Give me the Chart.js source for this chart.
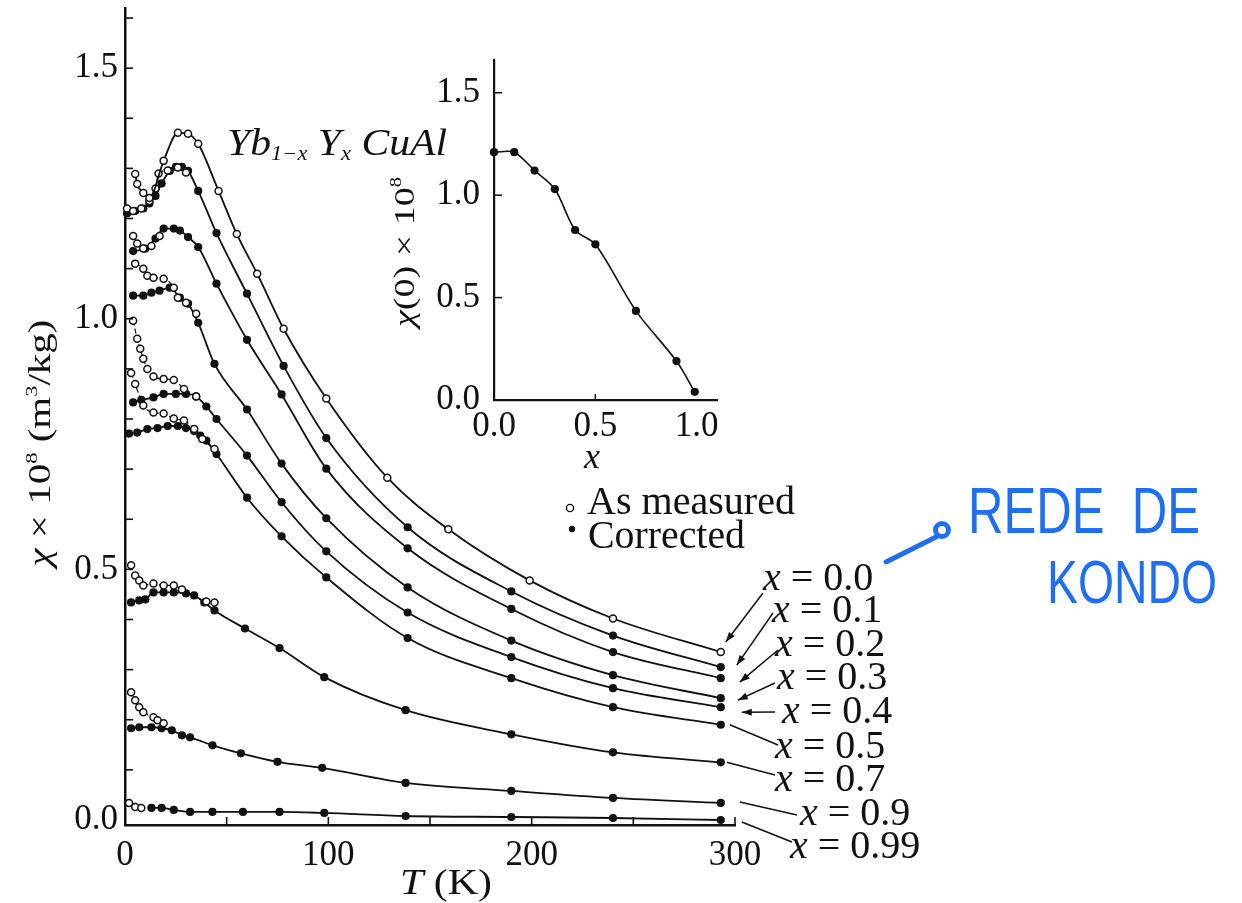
<!DOCTYPE html>
<html>
<head>
<meta charset="utf-8">
<script src="https://cdn.jsdelivr.net/npm/chart.js@4.4.1/dist/chart.umd.min.js"></script>
<style>
  body { margin: 0; background: #fff; }
  #wrap { position: relative; width: 1242px; height: 903px; overflow: hidden; }
  #main { position: absolute; left: 0; top: 0; }
  #inset { position: absolute; left: 370px; top: 40px; }
</style>
</head>
<body>
<div id="wrap">
  <canvas id="main" width="1242" height="903"></canvas>
  <canvas id="inset" width="370" height="440"></canvas>
</div>
<script>
const SERIF = "'Liberation Serif', 'DejaVu Serif', serif";
const INK = '#111';
const BLUE = '#1f6ff0';

// compositions x of Yb(1-x) Y(x) CuAl
const compositions = ['0.0', '0.1', '0.2', '0.3', '0.4', '0.5', '0.7', '0.9', '0.99'];

// chi x 10^8 (m3/kg) vs T (K) -- "corrected" = filled, "measured" = open
const T_00m = [5, 6, 9, 12, 19, 26, 31, 36, 46, 55, 65, 78, 99, 129, 159, 199, 240, 293];
const chi_00m = [1.289, 1.269, 1.251, 1.241, 1.315, 1.371, 1.369, 1.349, 1.255, 1.169, 1.090, 0.980, 0.841, 0.683, 0.580, 0.478, 0.402, 0.335];

const T_01 = [1, 5, 9, 12, 15, 18, 22, 25, 28, 31, 36, 45, 60, 78, 99, 139, 190, 240, 293];
const chi_01 = [1.21, 1.215, 1.22, 1.23, 1.245, 1.27, 1.295, 1.303, 1.303, 1.295, 1.255, 1.171, 1.05, 0.906, 0.762, 0.584, 0.456, 0.368, 0.305];
const T_01m = [1, 4, 8, 12, 15, 16.5, 21, 26, 30];
const chi_01m = [1.22, 1.215, 1.22, 1.235, 1.26, 1.29, 1.296, 1.302, 1.292];

const T_02 = [4, 10, 15, 19, 24, 27, 31, 36, 45, 60, 77, 99, 139, 190, 240, 293];
const chi_02 = [1.135, 1.14, 1.16, 1.18, 1.18, 1.176, 1.163, 1.143, 1.07, 0.958, 0.849, 0.701, 0.542, 0.421, 0.335, 0.283];
const T_02m = [4, 6, 9, 13, 17];
const chi_02m = [1.165, 1.15, 1.14, 1.145, 1.165];

const T_03 = [4, 9, 13, 17, 22, 27, 31, 36, 44, 60, 77, 99, 139, 190, 240, 293];
const chi_03 = [1.046, 1.046, 1.052, 1.056, 1.062, 1.042, 1.03, 0.992, 0.91, 0.819, 0.711, 0.602, 0.464, 0.358, 0.289, 0.243];
const T_03m = [5, 9, 11, 14, 19, 24, 26, 30, 35];
const chi_03m = [1.11, 1.10, 1.086, 1.082, 1.08, 1.062, 1.042, 1.032, 1.01];

const T_04 = [4, 8, 14, 19, 25, 30, 35, 40, 45, 60, 77, 99, 139, 190, 240, 293];
const chi_04 = [0.833, 0.838, 0.843, 0.85, 0.85, 0.85, 0.845, 0.825, 0.80, 0.727, 0.634, 0.536, 0.414, 0.325, 0.263, 0.225];
const T_04m = [4, 6, 7.5, 9, 11, 14, 19, 24, 29, 35];
const chi_04m = [0.996, 0.96, 0.94, 0.92, 0.90, 0.885, 0.88, 0.878, 0.86, 0.845];

const T_05 = [2, 6, 11, 16, 21, 26, 30, 34, 37, 40, 45, 60, 77, 99, 139, 190, 240, 293];
const chi_05 = [0.771, 0.773, 0.78, 0.782, 0.786, 0.786, 0.782, 0.776, 0.767, 0.757, 0.73, 0.643, 0.566, 0.484, 0.363, 0.283, 0.225, 0.19];
const T_05m = [3, 5, 9, 14, 19, 24, 29, 34, 38, 44];
const chi_05m = [0.892, 0.87, 0.827, 0.813, 0.811, 0.801, 0.797, 0.78, 0.76, 0.74];

const T_07 = [3, 7, 10, 14, 19, 24, 30, 34, 39, 44, 59, 76, 98, 138, 190, 240, 293];
const chi_07 = [0.434, 0.438, 0.44, 0.454, 0.454, 0.454, 0.452, 0.448, 0.434, 0.418, 0.382, 0.343, 0.285, 0.219, 0.171, 0.135, 0.115];
const T_07m = [3, 5, 7, 9, 14, 19, 24, 28, 40, 44];
const chi_07m = [0.508, 0.488, 0.478, 0.468, 0.472, 0.468, 0.468, 0.46, 0.436, 0.434];

const T_09 = [3, 7, 13, 18, 23, 28, 32, 43, 57, 75, 97, 138, 190, 240, 293];
const chi_09 = [0.183, 0.185, 0.185, 0.183, 0.179, 0.169, 0.165, 0.149, 0.133, 0.116, 0.104, 0.074, 0.058, 0.044, 0.034];
const T_09m = [3, 5, 7, 9, 14, 16, 19];
const chi_09m = [0.255, 0.239, 0.225, 0.215, 0.205, 0.199, 0.193];

const T_099 = [13, 18, 24, 32, 43, 58, 76, 98, 138, 190, 240, 293];
const chi_099 = [0.024, 0.024, 0.02, 0.016, 0.016, 0.016, 0.016, 0.014, 0.008, 0.006, 0.004, 0.0];
const T_099m = [2, 5, 8];
const chi_099m = [0.034, 0.026, 0.024];

// inset: chi(0) vs x
const insetX = [0.0, 0.1, 0.2, 0.3, 0.4, 0.5, 0.7, 0.9, 0.99];
const insetChi = [1.21, 1.21, 1.12, 1.03, 0.83, 0.76, 0.435, 0.19, 0.04];

const xTicks = [0, 100, 200, 300];
const yTicks = [0.0, 0.5, 1.0, 1.5];
const insetXTicks = [0.0, 0.5, 1.0];
const insetYTicks = [0.0, 0.5, 1.0, 1.5];

const pts = (t, c) => t.map((v, i) => ({ x: v, y: c[i] }));

const correctedSets = [null, [T_01, chi_01], [T_02, chi_02], [T_03, chi_03], [T_04, chi_04],
  [T_05, chi_05], [T_07, chi_07], [T_09, chi_09], [T_099, chi_099]];
const measuredSets = [[T_00m, chi_00m], [T_01m, chi_01m], [T_02m, chi_02m], [T_03m, chi_03m], [T_04m, chi_04m],
  [T_05m, chi_05m], [T_07m, chi_07m], [T_09m, chi_09m], [T_099m, chi_099m]];

const datasets = [];
compositions.forEach((c, i) => {
  const corr = correctedSets[i];
  if (corr) {
    datasets.push({
      label: 'x = ' + c + ' corrected',
      data: pts(corr[0], corr[1]),
      borderColor: INK, borderWidth: 1.8,
      pointRadius: 4.1, pointBackgroundColor: INK, pointBorderWidth: 0,
      cubicInterpolationMode: 'monotone', clip: false, order: 2
    });
  }
  const m = measuredSets[i];
  datasets.push({
    label: 'x = ' + c + ' as measured',
    data: pts(m[0], m[1]),
    borderColor: INK, borderWidth: corr ? 1.2 : 1.8,
    borderDash: corr ? [5, 3] : [],
    pointRadius: 3.5, pointBackgroundColor: '#fff', pointBorderColor: INK, pointBorderWidth: 1.5,
    cubicInterpolationMode: 'monotone', clip: false, order: 1
  });
});

// draws pieces [text, font, dy] one after another, optionally squeezed to a width
function rich(ctx, parts, x, y, align, fitW) {
  let w = 0;
  parts.forEach(p => { ctx.font = p[1]; w += ctx.measureText(p[0]).width; });
  const s = fitW ? fitW / w : 1;
  ctx.save();
  ctx.translate(x, y);
  ctx.scale(s, 1);
  let cx = align === 'center' ? -w / 2 : 0;
  parts.forEach(p => {
    ctx.font = p[1];
    ctx.fillText(p[0], cx, p[2] || 0);
    cx += ctx.measureText(p[0]).width;
  });
  ctx.restore();
}

function arrow(ctx, x1, y1, x2, y2, head) {
  ctx.beginPath();
  ctx.moveTo(x1, y1);
  ctx.lineTo(x2, y2);
  ctx.stroke();
  if (!head) return;
  const a = Math.atan2(y2 - y1, x2 - x1);
  ctx.beginPath();
  ctx.moveTo(x2, y2);
  ctx.lineTo(x2 - 10 * Math.cos(a) + 3.5 * Math.sin(a), y2 - 10 * Math.sin(a) - 3.5 * Math.cos(a));
  ctx.lineTo(x2 - 10 * Math.cos(a) - 3.5 * Math.sin(a), y2 - 10 * Math.sin(a) + 3.5 * Math.cos(a));
  ctx.closePath();
  ctx.fill();
}

// label text spots and arrow starts for the composition labels (page pixels)
const labelSpots = [[763, 590], [772, 622], [775, 656], [777, 689], [782, 723], [775, 758], [775, 791], [800, 825], [790, 858]];
const arrowFrom = [[763, 593], [773, 613], [778, 650], [775, 683], [775, 712], [778, 745], [775, 775], [797, 815], [792, 842]];
const arrowOff = [[5, -10], [16, -2], [19, 4], [17, 2], [21, 5], [9, 0], [6, 0], [19, -1], [21, 2]];

const mainDecor = {
  id: 'mainDecor',
  afterDraw(chart) {
    const { ctx, chartArea: a, scales: { x, y } } = chart;
    ctx.save();
    ctx.strokeStyle = INK;
    ctx.fillStyle = INK;
    ctx.lineWidth = 1.6;
    // inward ticks
    for (let k = 1; k <= 16; k++) {
      const py = y.getPixelForValue(k / 10);
      ctx.beginPath(); ctx.moveTo(a.left, py); ctx.lineTo(a.left + 8, py); ctx.stroke();
    }
    for (let k = 1; k <= 6; k++) {
      const px = x.getPixelForValue(k * 50);
      ctx.beginPath(); ctx.moveTo(px, a.bottom); ctx.lineTo(px, a.bottom - 8); ctx.stroke();
    }

    ctx.textBaseline = 'alphabetic';
    // compound name
    rich(ctx, [['Yb', 'italic 37px ' + SERIF], ['1\u2212x', 'italic 20px ' + SERIF, 5], [' Y', 'italic 37px ' + SERIF],
      ['x', 'italic 20px ' + SERIF, 5], [' CuAl', 'italic 37px ' + SERIF]], 227, 155, 'left', 220);

    // legend
    ctx.lineWidth = 1.4;
    ctx.beginPath(); ctx.arc(570, 508, 3.6, 0, Math.PI * 2); ctx.fillStyle = '#fff'; ctx.fill(); ctx.stroke();
    ctx.fillStyle = INK;
    ctx.beginPath(); ctx.arc(572, 529, 3.2, 0, Math.PI * 2); ctx.fill();
    rich(ctx, [['As measured', '39px ' + SERIF]], 587, 514, 'left', 208);
    rich(ctx, [['Corrected', '39px ' + SERIF]], 588, 548, 'left', 157);

    // composition labels with pointers to the curve ends
    ctx.lineWidth = 1.5;
    compositions.forEach((c, i) => {
      const set = correctedSets[i] || measuredSets[i];
      const n = set[0].length - 1;
      const tx = x.getPixelForValue(set[0][n]) + arrowOff[i][0];
      const ty = y.getPixelForValue(set[1][n]) + arrowOff[i][1];
      arrow(ctx, arrowFrom[i][0], arrowFrom[i][1], tx, ty, i < 5);
      rich(ctx, [['x', 'italic 40px ' + SERIF], [' = ' + c, '40px ' + SERIF]], labelSpots[i][0], labelSpots[i][1], 'left');
    });

    // axis titles
    rich(ctx, [['T', 'italic 36px ' + SERIF], [' (K)', '36px ' + SERIF]], 400, 894, 'left', 92);
    ctx.save();
    ctx.translate(40, 443);
    ctx.rotate(-Math.PI / 2);
    rich(ctx, [['\u03c7', 'italic 31px ' + SERIF], [' \u00d7 10', '31px ' + SERIF], ['8', '17px ' + SERIF, -13],
      [' (m', '31px ' + SERIF], ['3', '17px ' + SERIF, -13], ['/kg)', '31px ' + SERIF]], 0, 10, 'center', 247);
    ctx.restore();

    // handwritten note
    ctx.strokeStyle = BLUE;
    ctx.fillStyle = BLUE;
    ctx.lineWidth = 5;
    ctx.lineCap = 'round';
    ctx.beginPath(); ctx.arc(942, 530, 6.5, 0, Math.PI * 2); ctx.stroke();
    ctx.beginPath(); ctx.moveTo(936, 537); ctx.lineTo(886, 562); ctx.stroke();
    rich(ctx, [['REDE  DE', "64px 'Liberation Sans', sans-serif"]], 968, 533, 'left', 232);
    rich(ctx, [['KONDO', "62px 'Liberation Sans', sans-serif"]], 1047, 603, 'left', 170);
    ctx.restore();
  }
};

new Chart(document.getElementById('main'), {
  type: 'line',
  data: { datasets },
  options: {
    responsive: false,
    animation: false,
    devicePixelRatio: 1,
    layout: { padding: { left: 0, top: 8, right: 507, bottom: 0 } },
    plugins: { legend: { display: false }, tooltip: { enabled: false } },
    scales: {
      x: {
        type: 'linear', min: 0, max: 300,
        grid: { display: false, drawTicks: false },
        border: { color: INK, width: 2.5 },
        afterBuildTicks: s => { s.ticks = xTicks.map(v => ({ value: v })); },
        afterFit: s => { s.height = 78; s.paddingLeft = 0; s.paddingRight = 0; },
        ticks: { color: INK, font: { family: SERIF, size: 35 }, padding: 10, maxRotation: 0, autoSkip: false,
          callback: v => String(v) }
      },
      y: {
        type: 'linear', min: -0.01, max: 1.62,
        grid: { display: false, drawTicks: false },
        border: { color: INK, width: 2.5 },
        afterBuildTicks: s => { s.ticks = yTicks.map(v => ({ value: v })); },
        afterFit: s => { s.width = 125; s.paddingTop = 0; s.paddingBottom = 0; },
        ticks: { color: INK, font: { family: SERIF, size: 35 }, padding: 7, autoSkip: false,
          callback: v => v.toFixed(1) }
      }
    }
  },
  plugins: [mainDecor]
});

const insetDecor = {
  id: 'insetDecor',
  afterDraw(chart) {
    const { ctx, chartArea: a, scales: { x, y } } = chart;
    ctx.save();
    ctx.strokeStyle = INK;
    ctx.fillStyle = INK;
    ctx.lineWidth = 1.5;
    insetYTicks.slice(1).forEach(v => {
      const py = y.getPixelForValue(v);
      ctx.beginPath(); ctx.moveTo(a.left, py); ctx.lineTo(a.left + 8, py); ctx.stroke();
    });
    const px = x.getPixelForValue(0.5);
    ctx.beginPath(); ctx.moveTo(px, a.bottom); ctx.lineTo(px, a.bottom - 6); ctx.stroke();
    ctx.textBaseline = 'alphabetic';
    rich(ctx, [['x', 'italic 36px ' + SERIF]], 222, 428, 'center');
    ctx.translate(44, 212);
    ctx.rotate(-Math.PI / 2);
    rich(ctx, [['\u03c7', 'italic 30px ' + SERIF], ['(0) \u00d7 10', '30px ' + SERIF], ['8', '16px ' + SERIF, -13]], 0, 0, 'center', 150);
    ctx.restore();
  }
};

new Chart(document.getElementById('inset'), {
  type: 'line',
  data: {
    datasets: [{
      data: pts(insetX, insetChi),
      borderColor: INK, borderWidth: 1.6,
      pointRadius: 4.1, pointBackgroundColor: INK, pointBorderWidth: 0,
      tension: 0.3, clip: false
    }]
  },
  options: {
    responsive: false,
    animation: false,
    devicePixelRatio: 1,
    layout: { padding: { left: 0, top: 20, right: 23, bottom: 0 } },
    plugins: { legend: { display: false }, tooltip: { enabled: false } },
    scales: {
      x: {
        type: 'linear', min: 0, max: 1.1,
        grid: { display: false, drawTicks: false },
        border: { color: INK, width: 2.2 },
        afterBuildTicks: s => { s.ticks = insetXTicks.map(v => ({ value: v })); },
        afterFit: s => { s.height = 80; s.paddingLeft = 0; s.paddingRight = 0; },
        ticks: { color: INK, font: { family: SERIF, size: 35 }, padding: 6, maxRotation: 0, autoSkip: false,
          callback: v => v.toFixed(1) }
      },
      y: {
        type: 'linear', min: 0, max: 1.66,
        grid: { display: false, drawTicks: false },
        border: { color: INK, width: 2.2 },
        afterBuildTicks: s => { s.ticks = insetYTicks.map(v => ({ value: v })); },
        afterFit: s => { s.width = 124; s.paddingTop = 0; s.paddingBottom = 0; },
        ticks: { color: INK, font: { family: SERIF, size: 35 }, padding: 14, autoSkip: false,
          callback: v => v.toFixed(1) }
      }
    }
  },
  plugins: [insetDecor]
});
</script>
</body>
</html>
